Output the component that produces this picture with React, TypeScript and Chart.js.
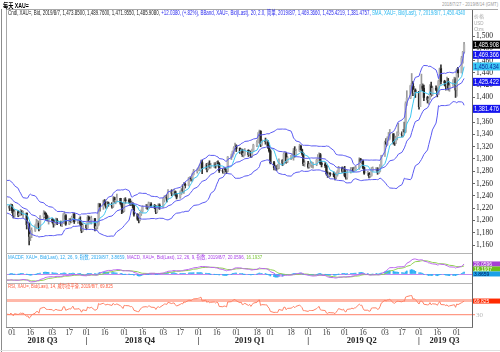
import React, { useEffect, useLayoutEffect, useRef } from 'react';
import { Chart, registerables } from 'chart.js';
Chart.register(...registerables);

// ---------------- data ----------------
const startDate = '2018-07-27';
const axisEndDay = 382.5;

// closes before the first visible bar (Jun 1 - Jul 26 2018), used only to warm up the indicators
const warmupCloses = [1294,
  1293, 1297, 1298, 1299, 1298, 1299, 1295, 1298, 1302, 1278, 1279, 1276, 1268, 1263, 1269,
  1266, 1257, 1253, 1248, 1252, 1241, 1253, 1253, 1256, 1256, 1258, 1255, 1246, 1247, 1241,
  1240, 1227, 1224, 1223, 1231, 1224, 1225, 1231, 1222];

// daily bars, Jul 27 2018 - Aug 7 2019 (weekdays)
const closes = [1223,
  1220, 1224, 1216, 1208, 1214, 1209, 1211, 1213, 1211, 1212, 1193, 1194, 1174, 1177, 1184,
  1190, 1196, 1196, 1186, 1206, 1212, 1210, 1202, 1201, 1201, 1200, 1194, 1197, 1200, 1197,
  1195, 1196, 1208, 1208, 1194, 1200, 1198, 1205, 1210, 1198, 1199, 1200, 1194, 1183, 1192,
  1188, 1205, 1199, 1200, 1203, 1188, 1190, 1194, 1227, 1222, 1232, 1226, 1223, 1228, 1227,
  1223, 1237, 1231, 1232, 1236, 1228, 1223, 1215, 1233, 1232, 1231, 1227, 1228, 1224, 1210,
  1202, 1201, 1211, 1215, 1222, 1224, 1222, 1227, 1227, 1223, 1222, 1214, 1222, 1225, 1222,
  1233, 1238, 1238, 1237, 1248, 1244, 1247, 1247, 1242, 1238, 1245, 1249, 1248, 1258, 1257,
  1269, 1269, 1268, 1275, 1280, 1282, 1285, 1288, 1294, 1285, 1290, 1284, 1292, 1287, 1290,
  1292, 1289, 1294, 1292, 1281, 1280, 1283, 1282, 1280, 1303, 1305, 1312, 1318, 1321, 1317,
  1312, 1315, 1307, 1309, 1314, 1307, 1312, 1305, 1313, 1322, 1327, 1341, 1345, 1323, 1329,
  1328, 1328, 1319, 1313, 1294, 1286, 1287, 1286, 1286, 1298, 1293, 1308, 1309, 1295, 1302,
  1303, 1306, 1313, 1306, 1313, 1321, 1315, 1309, 1292, 1292, 1287, 1291, 1291, 1291, 1291,
  1298, 1303, 1307, 1293, 1291, 1289, 1276, 1273, 1276, 1275, 1274, 1270, 1274, 1279, 1286,
  1280, 1283, 1273, 1270, 1279, 1281, 1284, 1281, 1284, 1285, 1300, 1296, 1297, 1286, 1277,
  1277, 1272, 1273, 1283, 1284, 1284, 1278, 1280, 1288, 1305, 1327, 1324, 1333, 1335, 1341,
  1327, 1326, 1334, 1341, 1341, 1339, 1345, 1344, 1390, 1399, 1419, 1423, 1407, 1412, 1409,
  1385, 1419, 1419, 1415, 1400, 1396, 1398, 1419, 1405, 1415, 1413, 1405, 1426, 1447, 1426,
  1424, 1418, 1426, 1415, 1419, 1427, 1430, 1412, 1445, 1440, 1464, 1474, 1485.908];

const highs = [1228,
  1225, 1227, 1226, 1218, 1218, 1216, 1215, 1218, 1216, 1215, 1212, 1198, 1196, 1184, 1188,
  1193, 1202, 1200, 1198, 1208, 1216, 1214, 1212, 1208, 1206, 1203, 1202, 1200, 1204, 1203,
  1199, 1198, 1211, 1214, 1210, 1203, 1203, 1207, 1211, 1212, 1201, 1204, 1206, 1196, 1195,
  1194, 1208, 1207, 1205, 1207, 1203, 1192, 1196, 1228, 1227, 1233, 1234, 1230, 1231, 1230,
  1229, 1239, 1238, 1235, 1243, 1236, 1229, 1225, 1236, 1237, 1235, 1235, 1232, 1229, 1225,
  1211, 1204, 1213, 1217, 1224, 1226, 1226, 1230, 1229, 1229, 1226, 1224, 1224, 1227, 1227,
  1236, 1240, 1241, 1242, 1250, 1250, 1249, 1251, 1248, 1244, 1248, 1252, 1258, 1262, 1261,
  1270, 1271, 1271, 1277, 1283, 1284, 1286, 1291, 1298, 1298, 1292, 1293, 1294, 1297, 1293,
  1294, 1294, 1296, 1297, 1294, 1284, 1286, 1285, 1284, 1304, 1308, 1313, 1320, 1326, 1323,
  1318, 1317, 1316, 1312, 1317, 1315, 1314, 1313, 1316, 1324, 1330, 1343, 1347, 1346, 1331,
  1334, 1331, 1330, 1322, 1315, 1296, 1290, 1289, 1291, 1300, 1299, 1310, 1311, 1311, 1304,
  1306, 1309, 1317, 1320, 1316, 1324, 1322, 1316, 1310, 1297, 1296, 1293, 1296, 1295, 1294,
  1300, 1307, 1310, 1309, 1296, 1294, 1290, 1279, 1278, 1278, 1279, 1276, 1278, 1281, 1288,
  1287, 1286, 1288, 1275, 1282, 1286, 1286, 1286, 1287, 1288, 1302, 1301, 1299, 1298, 1287,
  1280, 1278, 1275, 1286, 1287, 1286, 1286, 1283, 1291, 1306, 1329, 1333, 1336, 1343, 1348,
  1341, 1330, 1337, 1344, 1358, 1344, 1348, 1360, 1393, 1411, 1420, 1439, 1426, 1418, 1414,
  1410, 1421, 1438, 1422, 1420, 1402, 1401, 1421, 1425, 1418, 1419, 1416, 1428, 1448, 1453,
  1428, 1426, 1433, 1431, 1423, 1429, 1433, 1432, 1447, 1449, 1467, 1475, 1489.76];

const lows = [1217,
  1216, 1217, 1212, 1204, 1205, 1206, 1207, 1208, 1209, 1205, 1186, 1187, 1160, 1167, 1172,
  1182, 1188, 1192, 1183, 1185, 1203, 1205, 1200, 1199, 1194, 1196, 1189, 1192, 1195, 1193,
  1191, 1190, 1195, 1203, 1192, 1193, 1196, 1197, 1203, 1195, 1195, 1196, 1192, 1180, 1182,
  1185, 1187, 1197, 1196, 1194, 1183, 1185, 1186, 1192, 1215, 1218, 1224, 1220, 1220, 1223,
  1220, 1221, 1229, 1227, 1230, 1226, 1211, 1213, 1214, 1228, 1228, 1224, 1224, 1220, 1207,
  1200, 1196, 1199, 1208, 1213, 1219, 1218, 1220, 1224, 1221, 1219, 1211, 1212, 1219, 1218,
  1221, 1230, 1235, 1230, 1235, 1240, 1241, 1242, 1240, 1235, 1236, 1242, 1245, 1244, 1253,
  1256, 1266, 1264, 1264, 1274, 1277, 1281, 1281, 1286, 1276, 1283, 1279, 1282, 1285, 1285,
  1286, 1285, 1287, 1290, 1278, 1277, 1276, 1279, 1276, 1279, 1299, 1303, 1308, 1316, 1312,
  1309, 1308, 1304, 1303, 1306, 1304, 1306, 1302, 1303, 1312, 1320, 1326, 1338, 1320, 1322,
  1324, 1322, 1317, 1311, 1292, 1282, 1282, 1281, 1283, 1284, 1289, 1291, 1303, 1293, 1294,
  1299, 1301, 1298, 1303, 1305, 1312, 1313, 1306, 1289, 1288, 1285, 1285, 1288, 1286, 1285,
  1289, 1296, 1301, 1291, 1287, 1286, 1274, 1270, 1270, 1272, 1271, 1266, 1268, 1272, 1276,
  1278, 1278, 1271, 1267, 1267, 1277, 1279, 1279, 1280, 1282, 1283, 1294, 1292, 1284, 1275,
  1273, 1269, 1270, 1272, 1280, 1281, 1275, 1276, 1279, 1286, 1304, 1320, 1322, 1330, 1332,
  1324, 1322, 1325, 1331, 1338, 1336, 1336, 1342, 1343, 1387, 1398, 1410, 1403, 1405, 1400,
  1381, 1385, 1411, 1411, 1395, 1391, 1389, 1397, 1402, 1403, 1411, 1401, 1405, 1420, 1422,
  1419, 1412, 1416, 1412, 1410, 1418, 1422, 1400, 1402, 1433, 1440, 1456, 1471.955];

const priceTicks = [1160, 1180, 1200, 1220, 1240, 1260, 1280, 1300, 1320, 1340, 1360, 1380, 1400, 1420, 1440, 1460, 1480, 1500];
const tickDates = ['2018-08-01', '2018-08-16', '2018-09-03', '2018-09-17', '2018-10-01', '2018-10-16',
  '2018-11-01', '2018-11-16', '2018-12-03', '2018-12-17', '2019-01-01', '2019-01-16', '2019-02-01',
  '2019-02-18', '2019-03-01', '2019-03-18', '2019-04-01', '2019-04-16', '2019-05-01', '2019-05-16',
  '2019-06-03', '2019-06-17', '2019-07-01', '2019-07-16', '2019-08-01'];
const quarterBounds = ['2018-10-01', '2019-01-01', '2019-04-01', '2019-07-01'];
const quarterLabels = ['2018 Q3', '2018 Q4', '2019 Q1', '2019 Q2', '2019 Q3'];
const quarterLabelDates = ['2018-08-26', '2018-11-14', '2019-02-12', '2019-05-15', '2019-07-22'];
const rsiLevels = [30, 70];

const lastClose = 1485.908;
const bbLast = [1469.366, 1425.422, 1381.476];
const smaLast = 1450.434;
const macdLast = 20.0596;
const signalLast = 16.1937;
const histLast = 3.8659;
const rsiLast = 69.825;

// ---------------- scales / styling ----------------
const PRICE_MIN = 1147.0, PRICE_MAX = 1542.3;
const MACD_MIN = -18, MACD_MAX = 42;
const RSI_MIN = -4.3, RSI_MAX = 121.4;
const AXIS_W = 28;
const BB_COLOR = '#5a5af2';
const SMA_COLOR = '#3cc6f0';
const MACD_COLOR = '#bb66ee';
const SIGNAL_COLOR = '#8fd14f';
const HIST_COLOR = '#2fb0f5';
const RSI_COLOR = '#ff8266';
const SERIF = "'Liberation Serif', 'Times New Roman', serif";
const SANS = "'Liberation Sans', Arial, 'Noto Sans CJK SC', sans-serif";

Chart.defaults.font.family = SERIF;

const DAY = 86400000;
const t0 = Date.parse(startDate);
const dayOf = (s: string) => (Date.parse(s) - t0) / DAY;
const barDays: number[] = [];
for (let d = 0; barDays.length < closes.length; d++) {
  const wd = new Date(t0 + d * DAY).getUTCDay();
  if (wd !== 0 && wd !== 6) barDays.push(d);
}

// ---------------- indicators ----------------
const all = warmupCloses.concat(closes);
const W = warmupCloses.length;
const smaAt = (i: number, n: number) => { let s = 0; for (let k = i - n + 1; k <= i; k++) s += all[k]; return s / n; };
const bbUp: number[] = [], bbMid: number[] = [], bbLo: number[] = [], sma7: number[] = [];
for (let i = 0; i < closes.length; i++) {
  const j = i + W;
  const m = smaAt(j, 20);
  let v = 0;
  for (let k = j - 19; k <= j; k++) v += (all[k] - m) ** 2;
  const sd = Math.sqrt(v / 20);
  bbMid.push(m); bbUp.push(m + 2 * sd); bbLo.push(m - 2 * sd);
  sma7.push(smaAt(j, 7));
}
const ema = (arr: number[], n: number) => {
  const k = 2 / (n + 1); const out = [arr[0]];
  for (let i = 1; i < arr.length; i++) out.push(arr[i] * k + out[i - 1] * (1 - k));
  return out;
};
const e12 = ema(all, 12), e26 = ema(all, 26);
const macdAll = all.map((_, i) => e12[i] - e26[i]);
const sigAll = ema(macdAll, 9);
const rsiAll: number[] = new Array(all.length).fill(NaN);
{
  let ag = 0, al = 0;
  for (let i = 1; i <= 14; i++) { const d = all[i] - all[i - 1]; if (d > 0) ag += d; else al -= d; }
  ag /= 14; al /= 14;
  rsiAll[14] = 100 - 100 / (1 + ag / al);
  for (let i = 15; i < all.length; i++) {
    const d = all[i] - all[i - 1];
    ag = (ag * 13 + Math.max(d, 0)) / 14;
    al = (al * 13 + Math.max(-d, 0)) / 14;
    rsiAll[i] = al === 0 ? 100 : 100 - 100 / (1 + ag / al);
  }
}
const opens = closes.map((_, i) => (i === 0 ? warmupCloses[W - 1] : closes[i - 1]));
const pts = (arr: number[]) => barDays.map((x, i) => ({ x, y: arr[i] }));
const visible = (arr: number[]) => arr.slice(W);

const fmt3 = (v: number) => v.toLocaleString('en-US', { minimumFractionDigits: 3, maximumFractionDigits: 3 });
const fmt4 = (v: number) => v.toFixed(4);

// ---------------- helpers ----------------
type Box = { value: number; label: string; bg: string; fg: string };
const valueBoxes = (boxes: Box[], h: number, font: string) => ({
  id: 'valueBoxes',
  afterDraw(chart: any) {
    const ctx = chart.ctx;
    const y = chart.scales.y;
    const x0 = chart.chartArea.right + 1;
    const w = chart.width - x0;
    const items = boxes.map(b => ({ ...b, top: y.getPixelForValue(b.value) - h / 2 })).sort((a, b) => a.top - b.top);
    let prev = -Infinity;
    ctx.save();
    ctx.font = font;
    ctx.textBaseline = 'middle';
    ctx.textAlign = 'left';
    for (const b of items) {
      const top = Math.max(b.top, prev);
      ctx.fillStyle = b.bg;
      ctx.fillRect(x0, top, w, h);
      ctx.fillStyle = b.fg;
      ctx.fillText(b.label, x0 + 1, top + h / 2 + 0.5, w - 2);
      prev = top + h;
    }
    ctx.restore();
  },
});

const rightAxis = (min: number, max: number, ticks: number[], extra: any = {}) => ({
  position: 'right',
  min, max,
  afterBuildTicks: (s: any) => { s.ticks = ticks.map(v => ({ value: v })); },
  afterFit: (s: any) => { s.width = AXIS_W; s.paddingTop = 0; s.paddingBottom = 0; },
  ticks: { font: { family: SERIF, size: 7.5 }, color: '#222', padding: 1, autoSkip: false,
    callback: (v: number) => v.toLocaleString('en-US') },
  grid: { drawOnChartArea: false, tickLength: 3, color: '#666' },
  border: { display: true, color: '#666' },
  ...extra,
});

const hiddenX = { type: 'linear', min: 0, max: axisEndDay, offset: false, display: false };
const baseOptions = {
  responsive: false, animation: false, devicePixelRatio: 1, events: [],
  layout: { padding: 0 },
  plugins: { legend: { display: false }, tooltip: { enabled: false } },
};

function buildMain() {
  const up = closes.map((c, i) => c >= opens[i]);
  const wicks = barDays.map((x, i) => ({ x, y: [Math.min(lows[i], opens[i], closes[i]), Math.max(highs[i], opens[i], closes[i])] }));
  const bodies = barDays.map((x, i) => ({ x, y: [Math.min(opens[i], closes[i]), Math.max(opens[i], closes[i])] }));
  const line = (data: any, color: string) => ({ type: 'line', data, borderColor: color, borderWidth: 1, pointRadius: 0, tension: 0, order: 0 });
  return {
    type: 'bar',
    data: {
      datasets: [
        line(pts(bbUp), BB_COLOR), line(pts(bbMid), BB_COLOR), line(pts(bbLo), BB_COLOR), line(pts(sma7), SMA_COLOR),
        { type: 'bar', data: wicks, barThickness: 1, grouped: false, order: 2,
          backgroundColor: (c: any) => (up[c.dataIndex] ? '#999999' : '#333333') },
        { type: 'bar', data: bodies, barThickness: 1.6, grouped: false, minBarLength: 1, order: 1,
          backgroundColor: (c: any) => (up[c.dataIndex] ? '#b4b4b4' : '#262626') },
      ],
    },
    options: {
      ...baseOptions,
      scales: { x: hiddenX, y: rightAxis(PRICE_MIN, PRICE_MAX, priceTicks) },
    },
    plugins: [valueBoxes([
      { value: lastClose, label: fmt3(lastClose), bg: '#000', fg: '#fff' },
      { value: bbLast[0], label: fmt3(bbLast[0]), bg: '#1414ee', fg: '#fff' },
      { value: smaLast, label: fmt3(smaLast), bg: '#3cc8f5', fg: '#0a2aa0' },
      { value: bbLast[1], label: fmt3(bbLast[1]), bg: '#1414ee', fg: '#fff' },
      { value: bbLast[2], label: fmt3(bbLast[2]), bg: '#1414ee', fg: '#fff' },
    ], 8, `7px ${SANS}`)],
  };
}

function buildMacd() {
  const m = visible(macdAll), s = visible(sigAll);
  const h = m.map((v, i) => v - s[i]);
  return {
    type: 'bar',
    data: {
      datasets: [
        { type: 'line', data: pts(m), borderColor: MACD_COLOR, borderWidth: 1, pointRadius: 0, order: 0 },
        { type: 'line', data: pts(s), borderColor: SIGNAL_COLOR, borderWidth: 1, pointRadius: 0, order: 1 },
        { type: 'bar', data: pts(h), backgroundColor: HIST_COLOR, barThickness: 1, grouped: false, order: 2 },
      ],
    },
    options: {
      ...baseOptions,
      scales: {
        x: hiddenX,
        y: rightAxis(MACD_MIN, MACD_MAX, [0], {
          ticks: { display: false },
          grid: { drawOnChartArea: true, drawTicks: false, tickLength: 0, color: '#c48af0', lineWidth: 1 },
        }),
      },
    },
    plugins: [valueBoxes([
      { value: macdLast, label: fmt4(macdLast), bg: '#a63fd6', fg: '#fff' },
      { value: signalLast, label: fmt4(signalLast), bg: '#6cc01c', fg: '#fff' },
      { value: histLast, label: fmt4(histLast), bg: '#1aa0e8', fg: '#002060' },
    ], 5, `5px ${SANS}`)],
  };
}

function buildRsi() {
  const r = visible(rsiAll);
  const tickDays = tickDates.map(dayOf);
  const tickLabels = tickDates.map(d => d.slice(8, 10));
  const qTicks = quarterBounds.map(d => ({ v: dayOf(d), l: '|' }))
    .concat(quarterLabelDates.map((d, i) => ({ v: dayOf(d), l: quarterLabels[i] })))
    .sort((a, b) => a.v - b.v);
  return {
    type: 'line',
    data: { datasets: [{ data: pts(r), borderColor: RSI_COLOR, borderWidth: 1, pointRadius: 0, tension: 0 }] },
    options: {
      ...baseOptions,
      scales: {
        x: {
          type: 'linear', min: 0, max: axisEndDay, offset: false, position: 'bottom',
          afterBuildTicks: (s: any) => { s.ticks = tickDays.map(v => ({ value: v })); },
          afterFit: (s: any) => { s.height = 9; s.paddingLeft = 0; s.paddingRight = 0; },
          ticks: { autoSkip: false, maxRotation: 0, minRotation: 0, padding: 0, color: '#333',
            font: { family: SERIF, size: 7.5 }, callback: (_v: number, i: number) => tickLabels[i] },
          grid: { drawOnChartArea: false, tickLength: 2, color: '#888' },
          border: { display: true, color: '#888' },
        },
        x2: {
          type: 'linear', min: 0, max: axisEndDay, offset: false, position: 'bottom',
          afterBuildTicks: (s: any) => { s.ticks = qTicks.map(t => ({ value: t.v })); },
          afterFit: (s: any) => { s.height = 14; s.paddingLeft = 0; s.paddingRight = 0; },
          ticks: { autoSkip: false, maxRotation: 0, minRotation: 0, padding: 0, color: '#222',
            font: { family: SERIF, size: 8.5, weight: 'bold' }, callback: (_v: number, i: number) => qTicks[i].l },
          grid: { display: false, drawTicks: false },
          border: { display: false },
        },
        y: rightAxis(RSI_MIN, RSI_MAX, rsiLevels, {
          ticks: { font: { family: SERIF, size: 7 }, color: '#b8b8b8', padding: 1,
            callback: (v: number) => (v === 70 ? '' : String(v)) },
          grid: {
            drawOnChartArea: true, tickLength: 3,
            color: (c: any) => (c.tick && c.tick.value === 70 ? 'rgba(255,160,140,0.75)' : '#ff9a86'),
            lineWidth: (c: any) => (c.tick && c.tick.value === 70 ? 3 : 1.3),
          },
        }),
      },
    },
    plugins: [valueBoxes([{ value: rsiLast, label: rsiLast.toFixed(3), bg: '#ff2a00', fg: '#fff' }], 5, `5px ${SANS}`)],
  };
}

function ChartCanvas({ left, top, width, height, build }: any) {
  const ref = useRef<HTMLCanvasElement>(null);
  useEffect(() => {
    const chart = new Chart(ref.current as HTMLCanvasElement, build() as any);
    return () => chart.destroy();
  }, []);
  return <canvas ref={ref} width={width} height={height}
    style={{ position: 'absolute', left, top, width, height, display: 'block' }} />;
}

function FitText({ left, top, width, size, color = '#000', weight = 400, family = SANS, children }: any) {
  const ref = useRef<HTMLDivElement>(null);
  useLayoutEffect(() => {
    const el = ref.current;
    if (!el) return;
    const w = el.scrollWidth;
    if (w > 0) el.style.transform = `scaleX(${width / w})`;
  }, []);
  return (
    <div ref={ref} style={{ position: 'absolute', left, top, fontSize: size, lineHeight: 1, whiteSpace: 'nowrap',
      transformOrigin: '0 0', color, fontWeight: weight, fontFamily: family }}>{children}</div>
  );
}

const Line = ({ l, t, w, h, c }: any) => <div style={{ position: 'absolute', left: l, top: t, width: w, height: h, background: c }} />;

export default function App() {
  return (
    <div style={{ position: 'fixed', left: 0, top: 0, width: 500, height: 352, background: '#fff', overflow: 'hidden' }}>
      <ChartCanvas left={6} top={10} width={494} height={243} build={buildMain} />
      <ChartCanvas left={6} top={253} width={494} height={30} build={buildMacd} />
      <ChartCanvas left={6} top={283} width={494} height={67} build={buildRsi} />

      <Line l={1} t={9} w={1} h={343} c="#8c8c8c" />
      <Line l={6} t={9} w={492} h={1} c="#a8a8a8" />
      <Line l={6} t={9} w={1} h={318} c="#a8a8a8" />
      <Line l={6} t={253} w={466} h={1} c="#b4b4b4" />
      <Line l={6} t={283} w={466} h={1} c="#b4b4b4" />
      <Line l={0} t={350} w={500} h={1} c="#e0e0e0" />

      <FitText left={3} top={1.5} width={26} size={7} weight={700}>每天 XAU=</FitText>
      <FitText left={442} top={2} width={56} size={5.5} color="#9a9a9a">2018/7/27 - 2019/8/14 (GMT)</FitText>
      <FitText left={8} top={10} width={457} size={6.5}>
        <span style={{ color: '#222' }}>Cndl, XAU=, Bid, 2019/8/7, 1,473.8500, 1,489.7600, 1,471.9550, 1,485.9080, </span>
        <span style={{ color: '#2a2aee' }}>+12.0380, (+.82%), BBand, XAU=, Bid(Last), 20, 2.0, 简单, 2019/8/7, 1,469.3660, 1,425.4219, 1,381.4757, </span>
        <span style={{ color: '#2cb8f0' }}>SMA, XAU=, Bid(Last), 7, 2019/8/7, 1,450.4340</span>
      </FitText>
      <FitText left={474} top={14} width={10} size={5} color="#aaa">价格</FitText>
      <FitText left={474} top={21} width={10} size={5} color="#aaa">USD</FitText>
      <FitText left={474} top={27} width={10} size={5} color="#aaa">Ozs</FitText>
      <FitText left={8} top={254.5} width={254} size={5.5}>
        <span style={{ color: '#2aa8f0' }}>MACDF, XAU=, Bid(Last), 12, 26, 9, 指数, 2019/8/7, 3.8659, </span>
        <span style={{ color: '#a83ee8' }}>MACD, XAU=, Bid(Last), 12, 26, 9, 指数, 2019/8/7, 20.0596, </span>
        <span style={{ color: '#7cc63a' }}>16.1937</span>
      </FitText>
      <FitText left={8} top={283.5} width={105} size={5.5} color="#ff5a3c">RSI, XAU=, Bid(Last), 14, 威尔德平滑, 2019/8/7, 69.825</FitText>
    </div>
  );
}
